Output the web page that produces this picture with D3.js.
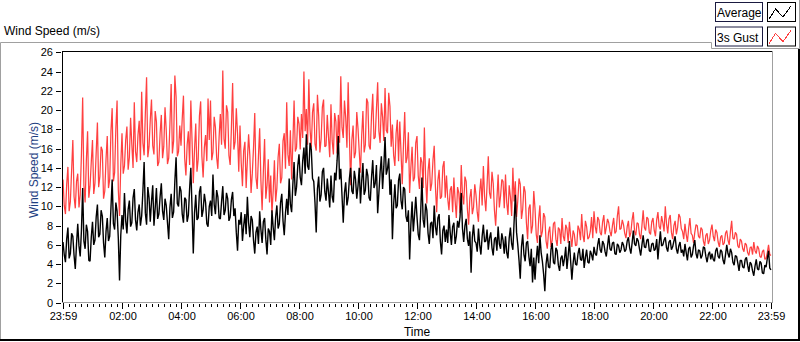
<!DOCTYPE html>
<html>
<head>
<meta charset="utf-8">
<script src="https://cdn.jsdelivr.net/npm/d3@7/dist/d3.min.js"></script>
<style>
  body { margin: 0; background: #fff; }
  svg text { font-family: "Liberation Sans", Arial, sans-serif; }
</style>
</head>
<body>
<svg id="chart"></svg>
<script>
// one value every 2.5 minutes, 23:59 -> 23:59 (one row per hour)
const gust = [
  12.8, 10.1, 9.2, 12.3, 14.1, 9.5, 10.5, 13.7, 16.9, 11.0, 9.8, 12.6, 13.4, 9.9, 11.2, 15.4, 21.3, 12.2, 10.4, 14.8, 17.8, 10.9, 12.1, 14.6,
  16.9, 11.3, 12.4, 15.6, 18.7, 12.0, 13.1, 16.2, 15.8, 10.8, 11.6, 14.9, 17.3, 11.9, 12.8, 17.8, 20.2, 12.6, 13.5, 18.1, 21.0, 11.7, 9.0, 14.3,
  17.6, 13.4, 14.2, 16.9, 18.3, 13.8, 15.1, 19.2, 16.4, 14.0, 20.8, 15.7, 14.6, 17.4, 18.9, 14.8, 21.9, 16.6, 15.3, 19.7, 23.4, 15.1, 16.2, 19.0,
  21.1, 16.3, 15.4, 19.9, 18.8, 14.2, 14.6, 17.6, 19.5, 15.0, 16.2, 20.3, 17.9, 14.4, 15.0, 18.6, 22.7, 15.5, 16.8, 23.6, 21.4, 15.2, 15.7, 18.4,
  16.3, 19.1, 21.5, 15.0, 13.2, 16.4, 17.8, 14.3, 21.0, 16.8, 12.4, 15.9, 18.6, 13.6, 14.9, 19.4, 20.9, 15.2, 13.0, 16.1, 17.4, 14.7, 21.2, 16.9,
  21.0, 14.8, 15.6, 19.3, 18.2, 15.1, 13.9, 17.2, 19.6, 16.4, 24.1, 17.0, 16.0, 20.5, 19.8, 15.3, 14.3, 18.1, 22.8, 15.9, 16.7, 20.2, 17.5, 13.6,
  18.4, 14.5, 12.1, 15.8, 16.7, 11.9, 14.8, 17.5, 15.3, 11.4, 13.4, 16.1, 19.7, 13.0, 11.8, 15.2, 18.1, 12.7, 9.6, 13.6, 17.0, 10.8, 12.2, 14.9,
  10.4, 13.2, 9.3, 11.6, 14.8, 10.5, 11.9, 15.1, 16.5, 12.4, 13.0, 16.8, 17.6, 13.9, 20.8, 15.4, 14.2, 17.9, 12.8, 16.5, 21.0, 15.7, 16.1, 19.3,
  18.6, 15.9, 19.6, 17.1, 24.0, 17.8, 20.1, 16.4, 23.2, 18.0, 16.1, 19.8, 20.7, 16.5, 15.8, 21.6, 19.4, 15.6, 17.0, 20.3, 21.1, 16.2, 16.3, 19.5,
  17.2, 15.1, 20.6, 16.8, 15.4, 19.7, 18.8, 15.5, 19.5, 16.6, 23.5, 18.2, 17.1, 21.0, 19.2, 16.1, 22.9, 17.4, 12.2, 16.9, 18.4, 15.0, 15.6, 19.8,
  18.1, 15.7, 13.5, 17.3, 19.9, 15.6, 16.4, 21.2, 20.8, 16.3, 15.9, 19.4, 21.7, 17.0, 17.2, 20.1, 22.9, 17.8, 16.6, 20.7, 19.3, 16.8, 22.3, 17.9,
  17.6, 21.8, 20.4, 16.2, 18.5, 15.3, 14.2, 17.6, 19.0, 14.7, 18.8, 15.6, 12.3, 16.4, 19.8, 14.5, 15.1, 17.7, 11.4, 14.0, 16.2, 12.6, 13.0, 16.6,
  17.3, 13.2, 11.8, 15.1, 14.6, 11.9, 18.2, 13.0, 10.3, 13.7, 15.0, 11.6, 12.4, 14.8, 16.3, 12.0, 9.4, 12.7, 13.8, 10.8, 11.0, 14.1, 14.7, 10.9,
  13.2, 10.8, 9.6, 11.7, 12.1, 9.4, 13.0, 10.6, 8.8, 12.0, 11.4, 9.3, 14.3, 11.2, 10.2, 13.1, 12.6, 9.7, 8.1, 10.9, 11.8, 9.2, 9.9, 12.3,
  11.2, 9.4, 8.4, 11.5, 12.9, 10.1, 14.2, 11.0, 9.5, 12.2, 15.2, 11.4, 10.8, 13.6, 12.4, 9.6, 8.0, 10.7, 13.3, 9.9, 11.1, 12.8, 12.6, 9.8,
  13.3, 10.4, 9.1, 12.2, 11.0, 9.0, 14.0, 10.5, 12.6, 8.9, 10.6, 12.9, 12.3, 8.7, 9.7, 12.1, 11.5, 8.3, 6.6, 9.8, 10.2, 7.2, 8.0, 11.6,
  9.8, 7.1, 6.2, 8.7, 10.1, 6.8, 7.4, 9.3, 8.9, 6.4, 5.6, 7.3, 7.9, 5.8, 6.5, 8.2, 8.4, 6.6, 5.9, 7.8, 7.6, 6.1, 8.8, 6.9,
  6.4, 8.1, 7.7, 6.2, 8.4, 6.9, 5.8, 7.5, 7.1, 5.9, 6.0, 8.0, 7.6, 6.5, 9.2, 7.0, 6.3, 8.5, 7.9, 6.6, 6.8, 7.4, 8.9, 6.7,
  9.5, 7.9, 7.2, 8.9, 8.6, 7.3, 7.0, 8.4, 9.1, 7.1, 7.8, 8.7, 8.3, 7.4, 6.9, 8.0, 8.8, 7.2, 7.4, 9.0, 10.0, 7.6, 7.7, 8.6,
  8.1, 7.2, 6.7, 7.9, 8.5, 6.8, 7.3, 8.6, 9.4, 7.4, 7.0, 8.3, 8.2, 7.1, 6.6, 8.0, 9.6, 7.8, 7.5, 8.9, 8.7, 7.3, 7.1, 8.4,
  8.8, 7.5, 6.9, 8.6, 9.4, 7.9, 7.6, 9.0, 8.3, 7.4, 10.0, 8.2, 7.2, 8.7, 9.1, 7.3, 6.6, 8.0, 8.5, 7.1, 7.8, 9.2, 8.9, 7.7,
  7.4, 6.6, 8.2, 7.1, 6.3, 7.7, 8.8, 7.2, 7.0, 6.2, 7.3, 8.1, 8.0, 6.9, 6.7, 7.8, 7.6, 6.4, 5.9, 7.0, 7.2, 6.1, 6.5, 7.5,
  8.1, 6.9, 6.4, 7.6, 7.3, 6.3, 5.8, 6.8, 7.0, 6.0, 6.2, 7.2, 7.5, 6.5, 6.0, 7.4, 8.5, 6.7, 6.6, 7.3, 7.1, 5.9, 5.7, 6.6,
  6.4, 5.6, 5.3, 6.2, 6.0, 5.2, 4.9, 5.7, 5.8, 5.0, 6.3, 5.4, 5.1, 5.9, 5.6, 4.8, 4.7, 5.3, 5.5, 4.5, 4.6, 5.2, 6.0, 5.0,
  4.9
];

const average = [
  6.3, 5.0, 4.2, 6.6, 7.8, 4.6, 5.1, 7.2, 6.9, 4.9, 3.5, 6.1, 8.2, 5.9, 4.8, 7.5, 11.9, 6.4, 5.6, 8.1, 7.4, 4.4, 4.3, 6.8,
  8.4, 6.0, 6.5, 8.9, 10.2, 6.8, 7.1, 9.6, 9.0, 6.2, 4.7, 7.4, 8.8, 6.4, 6.9, 9.8, 12.8, 8.2, 7.6, 10.4, 9.5, 6.7, 2.3, 7.0,
  9.1, 7.6, 11.4, 8.5, 7.2, 9.7, 10.6, 7.9, 8.3, 10.9, 11.8, 8.6, 7.5, 9.4, 10.2, 8.0, 9.0, 11.6, 14.6, 9.3, 8.1, 12.0, 10.9, 8.4,
  10.5, 12.2, 8.0, 9.8, 11.9, 8.7, 9.2, 11.0, 12.4, 9.5, 8.6, 10.8, 10.1, 8.3, 6.6, 9.9, 11.3, 8.8, 9.4, 12.6, 15.1, 10.3, 10.0, 12.1,
  11.6, 9.2, 8.3, 10.9, 10.7, 8.4, 9.1, 11.8, 14.0, 9.7, 5.1, 9.3, 11.2, 8.6, 8.8, 11.5, 12.1, 8.9, 9.6, 11.3, 10.4, 8.2, 7.9, 10.0,
  10.6, 9.0, 13.3, 10.2, 9.2, 11.7, 11.0, 8.8, 8.7, 10.5, 12.1, 9.1, 9.6, 11.4, 10.8, 8.5, 8.9, 10.7, 11.5, 9.0, 9.8, 7.3, 5.4, 8.6,
  8.1, 9.4, 6.4, 8.0, 9.2, 7.1, 11.0, 8.3, 6.8, 9.0, 8.6, 6.5, 5.1, 7.3, 7.9, 6.1, 9.5, 7.6, 6.2, 8.4, 8.8, 6.6, 5.0, 7.7,
  7.4, 6.0, 9.6, 7.8, 6.5, 8.9, 10.1, 7.7, 8.2, 10.4, 11.3, 8.5, 7.0, 9.3, 10.8, 9.1, 12.9, 10.2, 9.4, 12.3, 14.6, 11.1, 12.0, 14.2,
  15.4, 13.0, 12.2, 14.7, 16.1, 13.4, 17.5, 14.2, 13.8, 16.6, 15.9, 12.9, 12.6, 10.4, 7.3, 11.8, 13.1, 10.5, 11.2, 13.6, 14.0, 11.5, 10.6, 12.9,
  11.5, 9.9, 13.2, 11.0, 10.4, 13.5, 12.7, 14.8, 17.3, 12.8, 13.9, 11.1, 8.3, 11.4, 12.5, 10.1, 10.9, 12.9, 14.0, 11.6, 11.3, 13.7, 12.8, 10.8,
  12.1, 14.0, 10.3, 12.6, 14.5, 11.2, 11.7, 13.9, 13.2, 10.9, 10.6, 13.0, 14.8, 11.9, 12.4, 14.3, 9.3, 11.4, 13.6, 15.2, 11.8, 14.1, 17.2, 13.3,
  13.9, 15.0, 11.2, 12.8, 6.6, 10.2, 12.3, 9.8, 10.1, 12.7, 13.4, 10.6, 9.7, 12.0, 11.8, 9.0, 8.4, 9.6, 4.5, 8.1, 10.5, 7.4, 9.1, 11.0,
  8.9, 7.1, 6.5, 9.4, 13.0, 8.6, 7.8, 10.3, 9.6, 7.2, 6.1, 8.2, 8.4, 6.7, 10.1, 7.9, 7.0, 8.8, 9.2, 6.4, 5.0, 7.5, 8.0, 6.3,
  7.6, 6.2, 9.1, 7.3, 6.0, 7.9, 8.3, 6.1, 6.9, 8.5, 7.8, 8.9, 11.4, 7.7, 6.3, 8.0, 8.7, 6.6, 5.9, 7.4, 3.1, 6.8, 8.1, 6.4,
  6.2, 5.3, 7.7, 6.0, 5.0, 6.9, 8.1, 6.3, 6.4, 7.6, 5.5, 6.7, 7.3, 5.7, 4.9, 6.6, 6.8, 5.4, 7.9, 6.1, 5.6, 7.2, 6.5, 5.1,
  6.9, 5.2, 4.6, 6.7, 7.8, 6.1, 5.5, 8.4, 11.2, 7.3, 6.0, 4.4, 2.5, 5.8, 7.1, 5.0, 4.3, 6.2, 6.4, 4.8, 3.8, 5.6, 2.1, 4.7,
  2.4, 4.5, 5.9, 4.1, 7.0, 5.2, 4.3, 3.0, 1.2, 4.0, 5.1, 3.7, 3.6, 5.5, 6.2, 4.2, 4.0, 5.7, 5.4, 3.9, 3.3, 4.6, 4.9, 3.8,
  4.6, 5.8, 3.5, 4.9, 6.4, 4.3, 2.4, 4.1, 5.2, 4.0, 3.9, 5.1, 5.7, 4.5, 4.4, 5.6, 3.6, 4.7, 5.5, 4.2, 4.1, 5.4, 5.0, 4.4,
  5.8, 5.1, 4.9, 6.0, 6.7, 5.5, 5.2, 6.4, 6.1, 5.3, 4.8, 5.9, 7.0, 5.6, 5.4, 6.2, 6.3, 5.1, 5.0, 6.1, 5.9, 5.2, 5.5, 6.3,
  6.0, 5.3, 5.5, 6.4, 6.8, 5.7, 5.1, 6.2, 7.5, 6.1, 5.9, 6.7, 6.4, 5.6, 4.9, 6.0, 7.0, 5.8, 5.7, 6.5, 6.6, 5.4, 5.3, 6.1,
  6.2, 5.4, 5.6, 6.6, 4.5, 6.1, 7.4, 5.9, 6.0, 6.5, 6.8, 5.7, 5.3, 6.3, 6.5, 5.5, 5.8, 6.4, 6.9, 5.6, 5.1, 5.9, 6.3, 5.2,
  5.5, 4.8, 6.1, 5.2, 4.4, 5.6, 5.8, 4.7, 5.0, 5.9, 6.5, 5.1, 4.6, 5.5, 5.4, 4.6, 4.9, 5.8, 5.7, 4.8, 4.2, 5.0, 5.3, 4.5,
  5.1, 4.5, 4.3, 5.4, 5.7, 4.8, 4.6, 5.5, 5.3, 4.4, 4.0, 5.0, 6.0, 5.1, 4.7, 5.6, 5.2, 4.2, 3.9, 4.9, 4.8, 4.1, 3.3, 4.4,
  4.4, 3.7, 3.6, 4.5, 4.7, 3.9, 3.2, 4.2, 4.0, 3.3, 2.8, 3.8, 4.5, 3.5, 3.4, 4.3, 4.1, 3.1, 3.0, 3.9, 3.7, 4.6, 5.4, 3.6,
  3.4
];

const seriesNames = ["Average", "3s Gust"];
const seriesColors = ["#000000", "#ff4040"];
const yTickValues = [0, 2, 4, 6, 8, 10, 12, 14, 16, 18, 20, 22, 24, 26];
const xTickLabels = ["23:59", "02:00", "04:00", "06:00", "08:00", "10:00", "12:00",
                     "14:00", "16:00", "18:00", "20:00", "22:00", "23:59"];
const sampleSeconds = 150;

const width = 800, height = 342;
const t0 = new Date(2000, 0, 1, 23, 59);
const t1 = new Date(2000, 0, 2, 23, 59);

const svg = d3.select("#chart")
  .attr("width", width)
  .attr("height", height)
  .style("display", "block");

svg.append("rect").attr("width", width).attr("height", height).attr("fill", "#fff");

const x = d3.scaleTime().domain([t0, t1]).range([63, 771]);
const y = d3.scaleLinear().domain([0, 26]).range([302.7, 52.3]);

const times = gust.map((d, i) => d3.timeSecond.offset(t0, i * sampleSeconds));

// outer frame (sunken look)
const frame = svg.append("g");
frame.append("path").attr("d", "M0.5,341 V42.5 H711.5 V48.5 H799.5 V0")
  .attr("fill", "none").attr("stroke", "#a0a0a0");
frame.append("rect").attr("x", 0).attr("y", 339).attr("width", 800).attr("height", 2).attr("fill", "#000");
frame.append("rect").attr("x", 798).attr("y", 49).attr("width", 2).attr("height", 292).attr("fill", "#000");

// title
svg.append("text")
  .attr("x", 4).attr("y", 35)
  .style("font-size", "12px")
  .text("Wind Speed (m/s)");

// clip for the plot
svg.append("clipPath").attr("id", "plotclip")
  .append("rect").attr("x", 63).attr("y", 52).attr("width", 709).attr("height", 251);

const line = d3.line()
  .x((d, i) => x(times[i]))
  .y(d => y(d));

const plotG = svg.append("g").attr("clip-path", "url(#plotclip)");
plotG.append("path")
  .datum(gust)
  .attr("d", line)
  .attr("fill", "none")
  .attr("stroke", seriesColors[1])
  .attr("stroke-width", 1.25)
  .attr("stroke-linejoin", "bevel");
plotG.append("path")
  .datum(average)
  .attr("d", line)
  .attr("fill", "none")
  .attr("stroke", seriesColors[0])
  .attr("stroke-width", 1.4)
  .attr("stroke-linejoin", "bevel");

// plot border: dark top/left, light bottom/right
svg.append("path").attr("d", "M62.5,303 V51.5 H772")
  .attr("fill", "none").attr("stroke", "#000").style("shape-rendering", "crispEdges");
svg.append("path").attr("d", "M62,302.5 H772.5 V51")
  .attr("fill", "none").attr("stroke", "#a0a0a0").style("shape-rendering", "crispEdges");

// y axis
const yAxis = svg.append("g")
  .attr("transform", "translate(61,0)")
  .call(d3.axisLeft(y).tickValues(yTickValues).tickSize(5).tickPadding(3));
yAxis.select(".domain").remove();
yAxis.selectAll("text").style("font-size", "11px").attr("fill", "#000");
yAxis.selectAll("line").style("shape-rendering", "crispEdges");

// x axis: major ticks every 2 h (02:00 .. 22:00) plus both ends
const majorTimes = [t0]
  .concat(d3.timeHour.every(2).range(new Date(2000, 0, 2, 2, 0), new Date(2000, 0, 2, 23, 0)))
  .concat([t1]);
const xAxis = svg.append("g")
  .attr("transform", "translate(0,303)")
  .call(d3.axisBottom(x).tickValues(majorTimes).tickSize(6).tickPadding(3)
    .tickFormat((d, i) => xTickLabels[i]));
xAxis.select(".domain").remove();
xAxis.selectAll("text").style("font-size", "11px").attr("fill", "#000");
xAxis.selectAll("line").style("shape-rendering", "crispEdges");

// minor ticks every 12 min
const minorTimes = d3.timeMinute.every(12).range(d3.timeMinute.offset(t0, 2), t1)
  .filter(t => t.getMinutes() !== 0 || t.getHours() % 2 !== 0);
svg.append("g").selectAll("line")
  .data(minorTimes)
  .join("line")
  .attr("x1", d => Math.round(x(d)) + 0.5)
  .attr("x2", d => Math.round(x(d)) + 0.5)
  .attr("y1", 304).attr("y2", 307)
  .attr("stroke", "#000");

// axis titles
svg.append("text")
  .attr("x", 417).attr("y", 336)
  .attr("text-anchor", "middle")
  .style("font-size", "12px")
  .text("Time");

svg.append("text")
  .attr("transform", "translate(38,170) rotate(-90)")
  .attr("text-anchor", "middle")
  .style("font-size", "12px")
  .attr("fill", "#1e3f82")
  .text("Wind Speed (m/s)");

// legend
const legend = svg.append("g");
seriesNames.forEach((name, i) => {
  const top = i === 0 ? 2 : 26.5;
  legend.append("rect")
    .attr("x", 715.5).attr("y", top + 0.5).attr("width", 47).attr("height", 19)
    .attr("fill", "#fff").attr("stroke", "#1a1a40");
  legend.append("text")
    .attr("x", 717).attr("y", top + 15)
    .style("font-size", "12px")
    .text(name);
  legend.append("rect")
    .attr("x", 767.5).attr("y", top + 0.5).attr("width", 28).attr("height", 19)
    .attr("fill", "#fff").attr("stroke", "#000");
  legend.append("path")
    .attr("d", `M769,${top + 17} L775.5,${top + 7} L783,${top + 15} L791,${top + 4}`)
    .attr("fill", "none")
    .attr("stroke", seriesColors[i])
    .style("shape-rendering", "crispEdges");
});
</script>
</body>
</html>
